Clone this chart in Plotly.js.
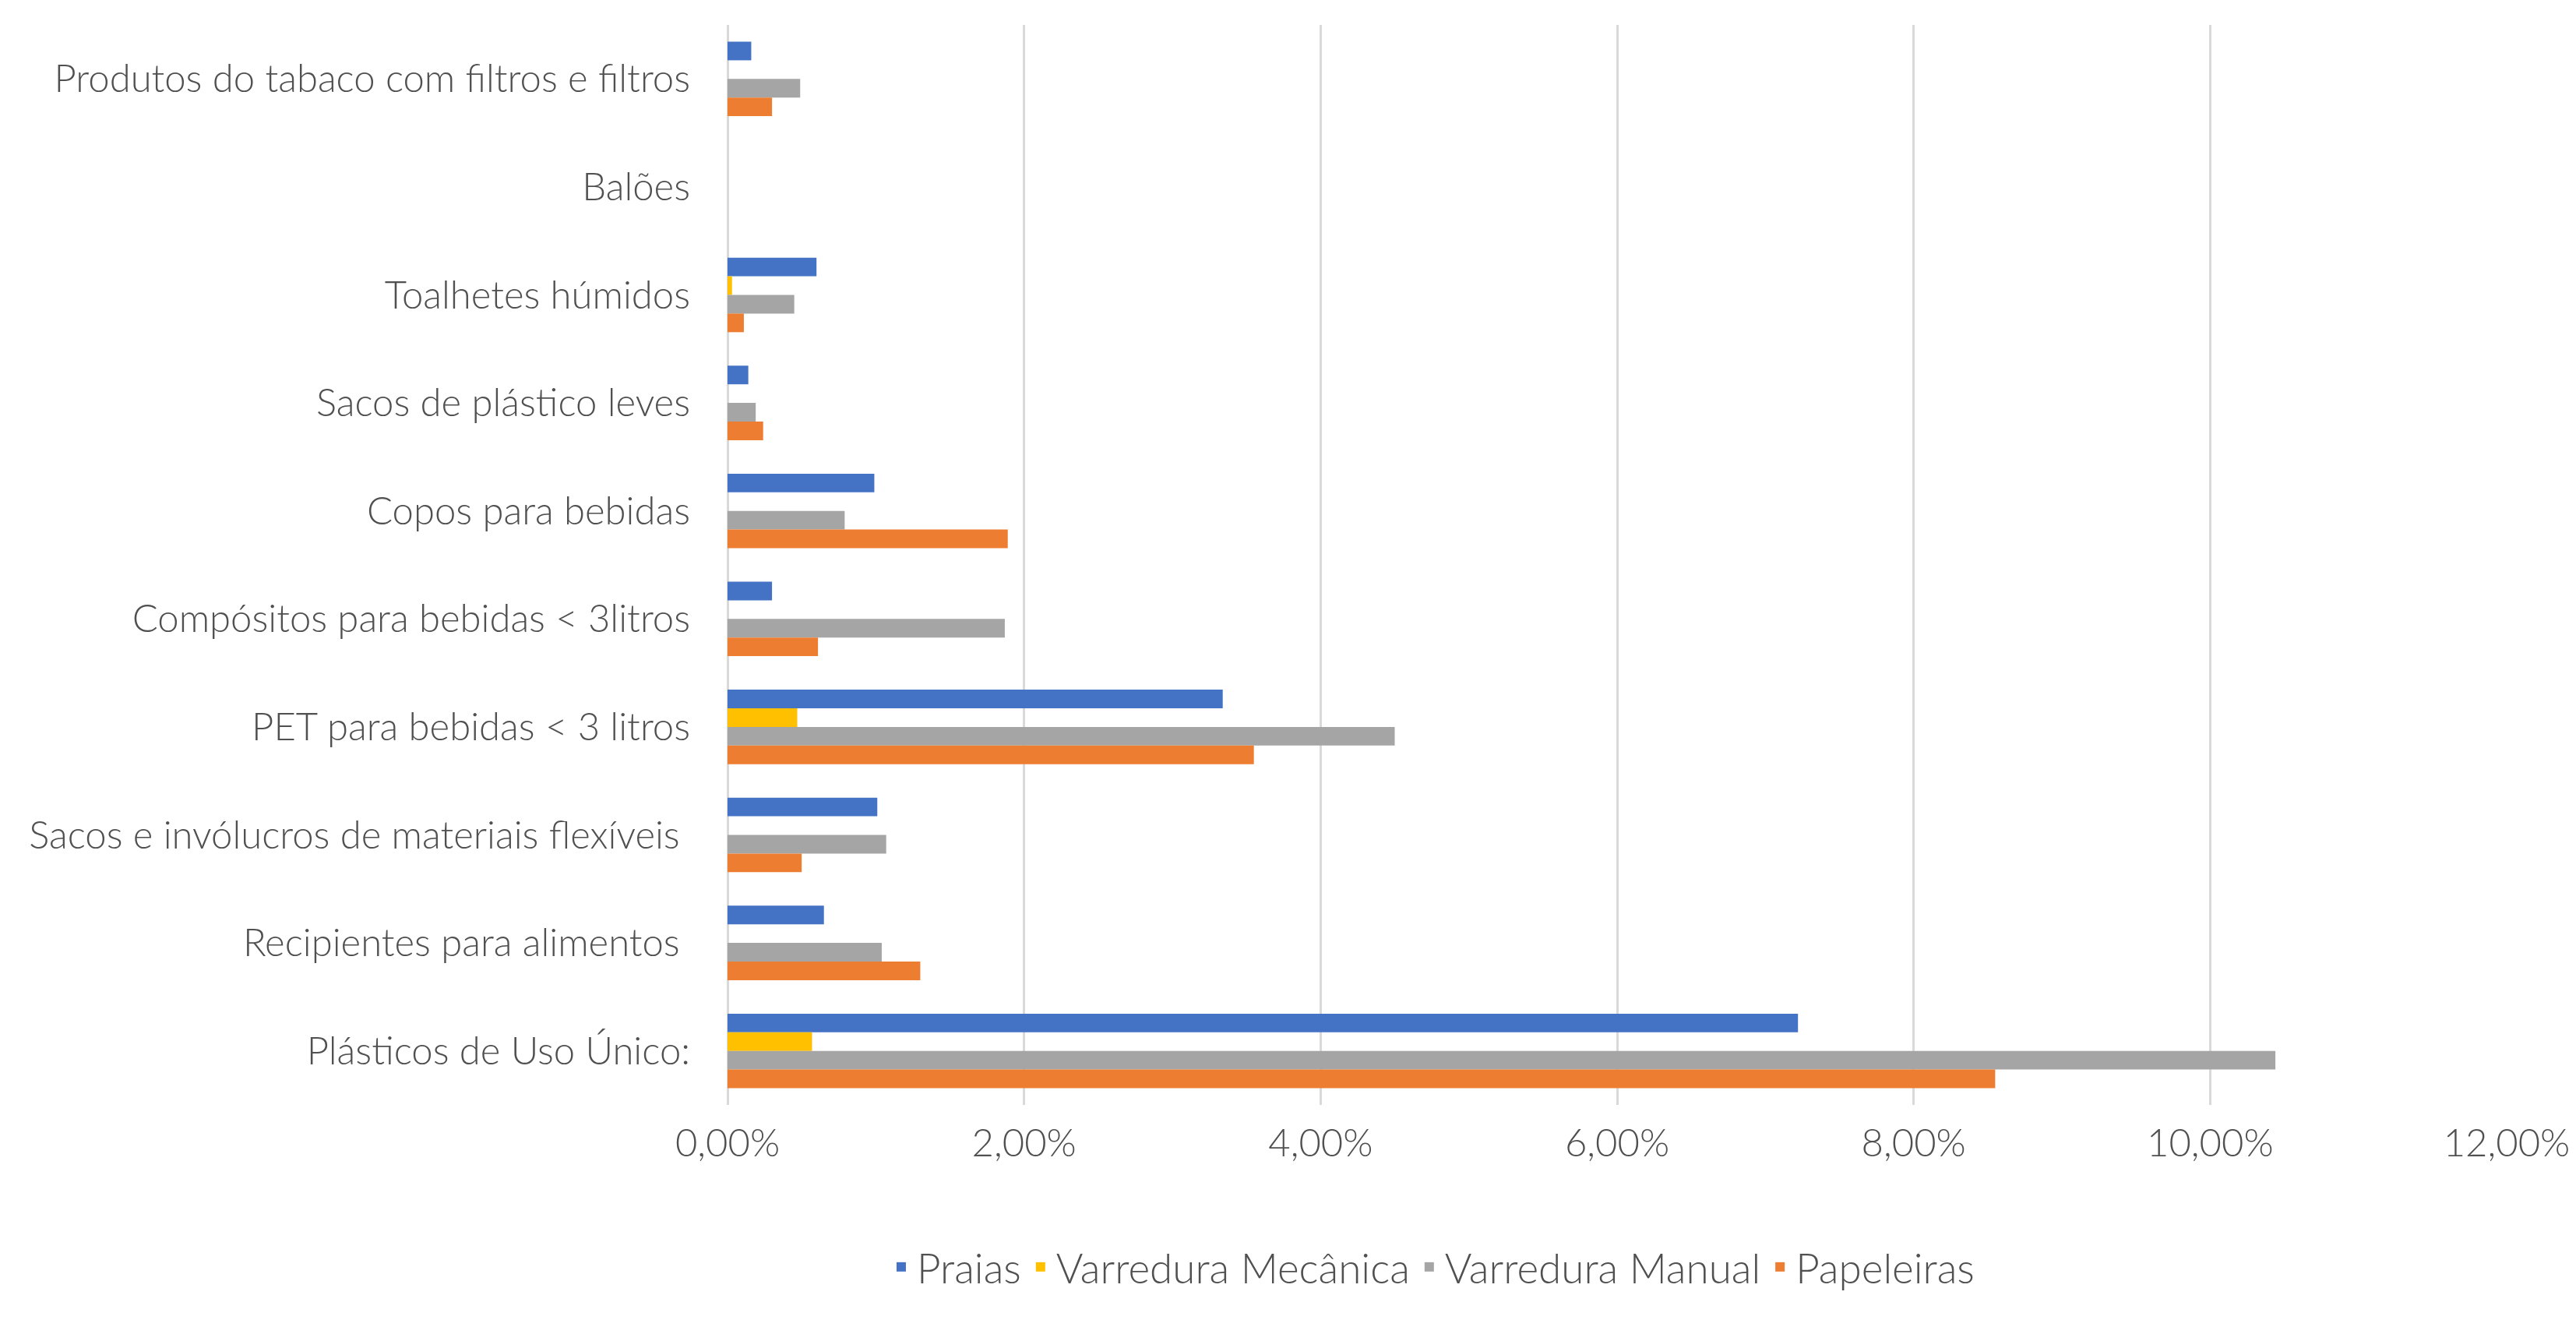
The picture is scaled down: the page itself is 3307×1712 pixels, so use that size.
<!DOCTYPE html>
<html>
<head>
<meta charset="utf-8">
<script src="https://cdn.plot.ly/plotly-3.0.1.min.js"></script>
<style>html,body{margin:0;padding:0;background:#fff;}#chart{width:3307px;height:1712px;}</style>
</head>
<body>
<div id="chart"></div>
<script>
// Categories, top to bottom as in the reference
const categories = [
  "Produtos do tabaco com filtros e filtros",
  "Balões",
  "Toalhetes húmidos",
  "Sacos de plástico leves",
  "Copos para bebidas",
  "Compósitos para bebidas < 3litros",
  "PET para bebidas < 3 litros",
  "Sacos e invólucros de materiais flexíveis ",
  "Recipientes para alimentos ",
  "Plásticos de Uso Único:"
];
// Values as fractions (shown as percentages)
const praias          = [0.0016, 0, 0.0060, 0.0014, 0.0099, 0.0030, 0.0334, 0.0101, 0.0065, 0.0722];
const varreduraMecan  = [0,      0, 0.0003, 0,      0,      0,      0.0047, 0,      0,      0.0057];
const varreduraManual = [0.0049, 0, 0.0045, 0.0019, 0.0079, 0.0187, 0.0450, 0.0107, 0.0104, 0.1044];
const papeleiras      = [0.0030, 0, 0.0011, 0.0024, 0.0189, 0.0061, 0.0355, 0.0050, 0.0130, 0.0855];
const seriesNames = ["Praias", "Varredura Mecânica", "Varredura Manual", "Papeleiras"];
const seriesColors = ["#4472C4", "#FFC000", "#A5A5A5", "#ED7D31"];
const xTickVals = [0, 0.02, 0.04, 0.06, 0.08, 0.10, 0.12];

const seriesValues = [praias, varreduraMecan, varreduraManual, papeleiras];
const traces = seriesValues.map((vals, i) => ({
  type: "bar",
  orientation: "h",
  name: seriesNames[i],
  x: vals,
  y: categories,
  marker: { color: seriesColors[i] },
  hoverinfo: "x+y+name"
}));

const font = { family: "Lato, 'Open Sans', sans-serif", size: 49, color: "#505050", weight: 300 };
const legendFont = { family: "Lato, 'Open Sans', sans-serif", size: 53, color: "#505050", weight: 300 };

const layout = {
  width: 3307,
  height: 1712,
  paper_bgcolor: "#ffffff",
  plot_bgcolor: "#ffffff",
  separators: ", ",
  font: font,
  margin: { l: 934, r: 89, t: 32, b: 294, pad: 0 },
  barmode: "group",
  bargap: 0.31,
  bargroupgap: 0,
  xaxis: {
    range: [0, 0.12],
    tickvals: xTickVals,
    tickformat: ".2%",
    showgrid: true,
    gridcolor: "#D9D9D9",
    gridwidth: 3,
    zeroline: true,
    zerolinecolor: "#D9D9D9",
    zerolinewidth: 3,
    showline: false,
    ticks: "",
    ticklabelstandoff: 16,
    tickfont: font,
    fixedrange: true
  },
  yaxis: {
    type: "category",
    categoryorder: "array",
    categoryarray: categories,
    autorange: "reversed",
    showgrid: false,
    zeroline: false,
    showline: false,
    ticks: "",
    ticklabelstandoff: 47,
    tickfont: font,
    fixedrange: true
  },
  showlegend: true,
  legend: {
    orientation: "h",
    x: 0.396,
    xanchor: "center",
    y: -0.150,
    yanchor: "middle",
    font: legendFont,
    itemclick: false,
    itemdoubleclick: false
  }
};

Plotly.newPlot("chart", traces, layout, { staticPlot: true, displayModeBar: false });
</script>
</body>
</html>
